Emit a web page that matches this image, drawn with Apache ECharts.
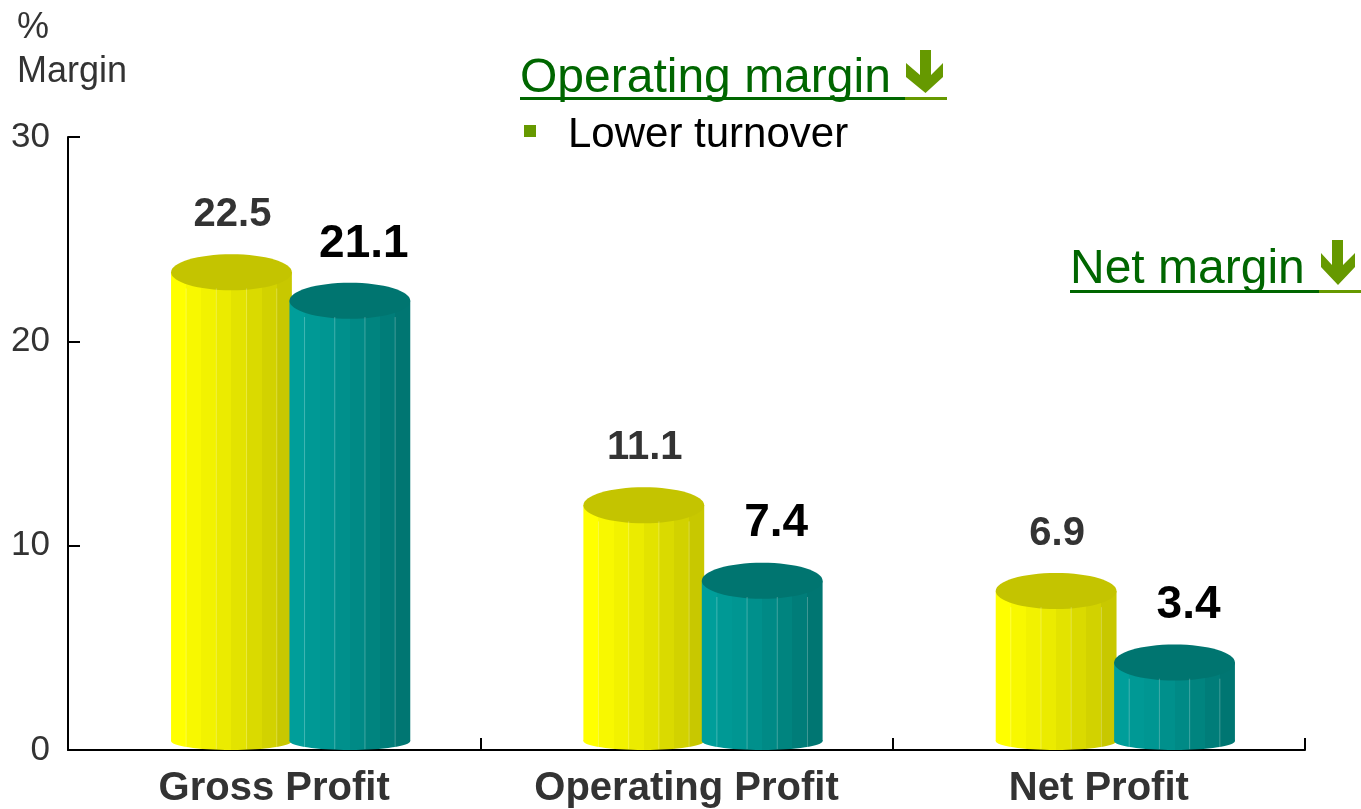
<!DOCTYPE html>
<html>
<head>
<meta charset="utf-8">
<script src="https://cdn.jsdelivr.net/npm/echarts@6/dist/echarts.min.js"></script>
<style>
  html, body { margin: 0; padding: 0; background: #fff; }
  #chart { width: 1361px; height: 809px; }
</style>
</head>
<body>
<div id="chart"></div>
<script>
const categories = ['Gross Profit', 'Operating Profit', 'Net Profit']
const prevValues = [22.5, 11.1, 6.9]
const currValues = [21.1, 7.4, 3.4]
const yTicks = [0, 10, 20, 30]

const FONT = '"Liberation Sans", Arial, sans-serif'

// facet colours, left to right
const yellowFacets = ['#ffff00', '#f8f800', '#f2f200', '#ebeb00', '#e3e300', '#dada00', '#d2d200', '#c8c800']
const tealFacets = ['#009e9a', '#009995', '#009692', '#00908c', '#008a86', '#00847f', '#007d79', '#007672']

function facetGradient(colors) {
  let stops = []
  let n = colors.length
  for (let i = 0; i < n; i++) {
    stops.push({offset: i / n, color: colors[i]})
    stops.push({offset: (i + 1) / n - 0.0001, color: colors[i]})
  }
  return new echarts.graphic.LinearGradient(0, 0, 1, 0, stops)
}

function cylinder(opts) {
  return function (params, api) {
    let idx = api.value(0)
    let val = api.value(1)
    let base = api.coord([idx, 0])
    let top = api.coord([idx, val])
    let band = api.size([1, 0])[0]
    let w = band * 0.293
    let cx = base[0] + band * 0.04 + opts.side * w * 0.49
    let x0 = cx - w / 2
    let rTop = 18
    let rBot = 9
    let topC = top[1] - rTop
    let botC = base[1] - rBot
    let fill = facetGradient(opts.facets)
    let children = [
      {type: 'ellipse', shape: {cx: cx, cy: botC, rx: w / 2, ry: rBot}, style: {fill: fill}},
      {type: 'rect', shape: {x: x0, y: topC, width: w, height: botC - topC}, style: {fill: fill}},
      {type: 'ellipse', shape: {cx: cx, cy: topC, rx: w / 2, ry: rTop}, style: {fill: opts.topColor}}
    ]
    // faint facet edges
    for (let k = 1; k < opts.facets.length; k += 2) {
      let lx = x0 + w * k / opts.facets.length
      children.push({type: 'line', shape: {x1: lx, y1: topC + rTop * 0.9, x2: lx, y2: botC + rBot * 0.9},
        style: {stroke: 'rgba(255,255,255,0.25)', lineWidth: 1}})
    }
    children.push({
      type: 'text',
      style: {
        x: cx + opts.labelDx, y: top[1] - 75,
        text: String(val.toFixed(1)),
        font: opts.labelFont, fill: opts.labelColor,
        align: 'center', verticalAlign: 'middle'
      }
    })
    return {type: 'group', children: children}
  }
}

let chart = echarts.init(document.getElementById('chart'))

let option = {
  animation: false,
  backgroundColor: '#fff',
  grid: {left: 68, right: 56, top: 137, bottom: 58},
  xAxis: {
    type: 'category',
    data: categories,
    boundaryGap: true,
    axisLine: {lineStyle: {color: '#000', width: 2}},
    axisTick: {show: true, inside: true, length: 12, lineStyle: {color: '#000', width: 2}},
    axisLabel: {color: '#333', fontFamily: FONT, fontWeight: 'bold', fontSize: 40, margin: 19}
  },
  yAxis: {
    type: 'value',
    min: yTicks[0],
    max: yTicks[yTicks.length - 1],
    interval: 10,
    splitLine: {show: false},
    axisLine: {show: true, lineStyle: {color: '#000', width: 2}},
    axisTick: {show: true, inside: true, length: 12, lineStyle: {color: '#000', width: 2}},
    axisLabel: {color: '#333', fontFamily: FONT, fontSize: 35, margin: 18, padding: [4, 0, 0, 0]}
  },
  series: [
    {
      type: 'custom', name: 'Previous',
      data: prevValues.map((v, i) => [i, v]),
      renderItem: cylinder({side: -1, facets: yellowFacets, topColor: '#c4c400',
        labelFont: 'bold 40px ' + FONT, labelColor: '#333', labelDx: 1})
    },
    {
      type: 'custom', name: 'Current',
      data: currValues.map((v, i) => [i, v]),
      renderItem: cylinder({side: 1, facets: tealFacets, topColor: '#007570',
        labelFont: 'bold 46px ' + FONT, labelColor: '#000', labelDx: 14})
    }
  ],
  graphic: [
    {type: 'text', left: 17, top: 10, style: {text: '%', font: '36px ' + FONT, fill: '#333'}},
    {type: 'text', left: 17, top: 54, style: {text: 'Margin', font: '36px ' + FONT, fill: '#333'}},

    {type: 'text', left: 520, top: 55, style: {text: 'Operating margin', font: '48px ' + FONT, fill: '#006600'}},
    {type: 'rect', shape: {x: 520, y: 97, width: 385, height: 3}, style: {fill: '#006600'}},
    {type: 'rect', shape: {x: 905, y: 97, width: 42, height: 3}, style: {fill: '#669900'}},
    {type: 'polygon', shape: {points: [[920, 50], [931, 50], [931, 75], [943, 63], [943, 77], [925.5, 93], [906, 77], [906, 63], [920, 75]]}, style: {fill: '#669900'}},
    {type: 'rect', shape: {x: 524, y: 125, width: 12, height: 12}, style: {fill: '#669900'}},
    {type: 'text', left: 568, top: 114, style: {text: 'Lower turnover', font: '42px ' + FONT, fill: '#000'}},

    {type: 'text', left: 1070, top: 246, style: {text: 'Net margin', font: '48px ' + FONT, fill: '#006600'}},
    {type: 'rect', shape: {x: 1070, y: 290, width: 249, height: 3}, style: {fill: '#006600'}},
    {type: 'rect', shape: {x: 1319, y: 290, width: 42, height: 3}, style: {fill: '#669900'}},
    {type: 'polygon', shape: {points: [[1332, 240], [1343, 240], [1343, 265], [1355, 253], [1355, 267], [1338, 285], [1321, 267], [1321, 253], [1332, 265]]}, style: {fill: '#669900'}}
  ]
}

chart.setOption(option)
</script>
</body>
</html>
